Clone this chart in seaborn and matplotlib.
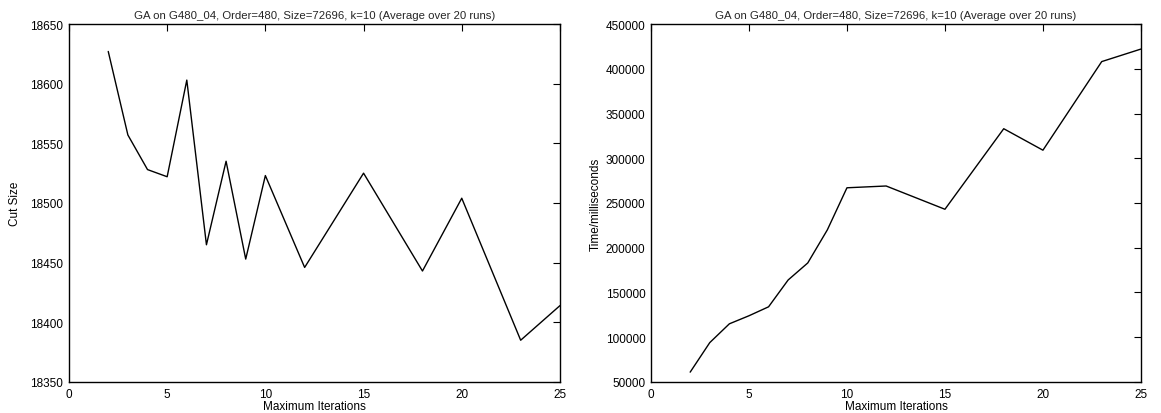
import matplotlib
matplotlib.use("Agg")
import matplotlib.pyplot as plt
import seaborn as sns
import pandas as pd

iterations = [2, 3, 4, 5, 6, 7, 8, 9, 10, 12, 15, 18, 20, 23, 25]
cut_size = [18627, 18557, 18528, 18522, 18603, 18465, 18535, 18453, 18523,
            18446, 18525, 18443, 18504, 18385, 18414]
time_ms = [61000, 94000, 115000, 124000, 134000, 164000, 183000, 220000, 267000,
           269000, 243000, 333000, 309000, 408000, 422000]
title = "GA on G480_04, Order=480, Size=72696, k=10 (Average over 20 runs)"

sns.set_theme(style="white")
plt.rcParams['font.family'] = ['Liberation Sans', 'DejaVu Sans']
plt.rcParams['font.size'] = 8.5

df = pd.DataFrame({"iter": iterations, "cut": cut_size, "time": time_ms})

fig = plt.figure(figsize=(11.61, 4.14), dpi=100)
ax1 = fig.add_axes([0.0594, 0.0749, 0.4229, 0.8647])
ax2 = fig.add_axes([0.5607, 0.0749, 0.4220, 0.8647])

sns.lineplot(data=df, x="iter", y="cut", ax=ax1, color="black", linewidth=1)
sns.lineplot(data=df, x="iter", y="time", ax=ax2, color="black", linewidth=1)

ax1.set_ylim(18350, 18650)
ax1.set_yticks(range(18350, 18651, 50))
ax2.set_ylim(50000, 450000)
ax2.set_yticks(range(50000, 450001, 50000))
ax1.set_ylabel("Cut Size", fontsize=8.5, labelpad=7)
ax2.set_ylabel("Time/milliseconds", fontsize=8.5, labelpad=3)

for ax in (ax1, ax2):
    ax.set_xlim(0, 25)
    ax.set_xticks([0, 5, 10, 15, 20, 25])
    ax.set_xlabel("Maximum Iterations", fontsize=8.5, labelpad=0)
    ax.set_title(title, fontsize=8.2, pad=4)
    ax.tick_params(direction="in", top=True, right=True, length=5, width=0.8,
                   labelsize=8.5, colors="black", pad=4)
    for s in ax.spines.values():
        s.set_color("black")
        s.set_linewidth(1)
    ax.yaxis.label.set_color("black")
    ax.xaxis.label.set_color("black")

fig.savefig("out.png", dpi=100)
